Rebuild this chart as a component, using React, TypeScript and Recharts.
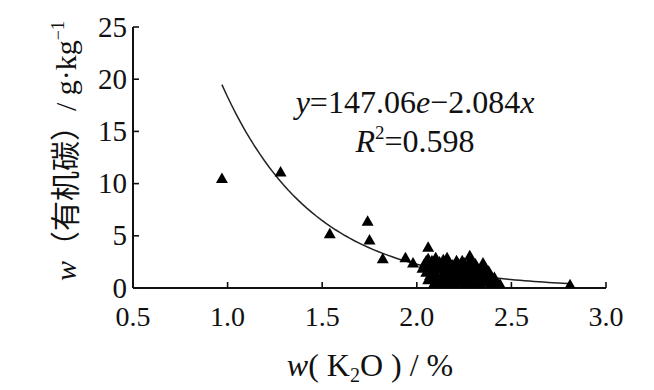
import React from "react";
import { ScatterChart, Scatter, XAxis, YAxis } from "recharts";

// w(K2O) % vs w(有机碳) g/kg
const kPercent = [
  0.97, 1.28, 1.54, 1.74, 1.75, 1.82, 1.94, 1.98, 2.06, 2.06, 2.1, 2.16,
  2.28, 2.35, 2.28, 2.44, 2.81,
  2.03, 2.04, 2.05, 2.06, 2.07, 2.08, 2.08, 2.09, 2.1, 2.1, 2.11, 2.12,
  2.12, 2.13, 2.14, 2.14, 2.15, 2.15, 2.16, 2.17, 2.17, 2.18, 2.18, 2.19,
  2.2, 2.2, 2.21, 2.21, 2.22, 2.23, 2.23, 2.24, 2.25, 2.25, 2.26, 2.27,
  2.27, 2.28, 2.29, 2.3, 2.3, 2.31, 2.32, 2.33, 2.34, 2.35, 2.36, 2.37,
  2.38, 2.4, 2.42,
  2.05, 2.07, 2.09, 2.11, 2.13, 2.16, 2.18, 2.19, 2.22, 2.24, 2.26, 2.28,
  2.29, 2.31, 2.32, 2.33, 2.35, 2.36, 2.38, 2.39, 2.41, 2.06, 2.09, 2.13,
  2.17, 2.2, 2.24, 2.26, 2.29, 2.31, 2.34, 2.36, 2.39,
];
const organicC = [
  10.5, 11.1, 5.2, 6.4, 4.6, 2.8, 2.9, 2.4, 3.9, 2.8, 2.9, 2.9,
  3.1, 2.4, 2.05, 0.35, 0.3,
  1.9, 2.3, 1.5, 2.1, 1.2, 2.6, 1.7, 0.9, 2.2, 1.4, 0.6, 2.5,
  1.8, 1.1, 2.7, 0.5, 2.0, 1.5, 0.9, 2.4, 1.7, 1.2, 0.4, 2.2,
  1.9, 0.8, 2.6, 1.4, 1.0, 2.1, 0.5, 1.7, 1.3, 2.4, 0.9, 1.9,
  0.4, 1.5, 1.1, 2.2, 0.7, 1.6, 1.2, 0.5, 1.8, 0.9, 1.3, 0.6,
  1.0, 0.7, 0.4,
  2.6, 2.0, 2.5, 1.9, 2.3, 2.6, 2.0, 1.5, 2.3, 2.6, 2.1, 2.6,
  1.8, 2.3, 1.9, 1.5, 1.5, 2.0, 1.6, 1.2, 1.0, 0.8, 0.4, 0.3,
  0.6, 0.3, 0.7, 0.3, 0.6, 0.3, 0.3, 0.6, 0.4,
];

const xTicks = [0.5, 1.0, 1.5, 2.0, 2.5, 3.0];
const yTicks = [0, 5, 10, 15, 20, 25];

// printed fit: y = 147.06 e^(-2.084x), drawn over the sampled range
const fitA = 147.06;
const fitB = 2.084;
const fitStart = 0.97;
const fitEnd = 2.82;

const points = kPercent.map((k, i) => ({ k, c: organicC[i] }));
const fitCurve: { k: number; c: number }[] = [];
for (let k = fitStart; k <= fitEnd + 1e-9; k += 0.025) {
  fitCurve.push({ k, c: fitA * Math.exp(-fitB * k) });
}

const W = 654;
const H = 390;
const margin = { top: 27, right: 48, bottom: 42, left: 73 };
const yAxisW = 60;
const xAxisH = 60;
const plotLeft = margin.left + yAxisW;
const plotBottom = H - margin.bottom - xAxisH;

const serif = "'Liberation Serif', 'Times New Roman', serif";
const cjk = "'Noto Sans CJK SC', sans-serif";
const txt = { fontFamily: serif };

const Triangle = (props: any) => {
  const { cx, cy } = props;
  return (
    <polygon
      points={`${cx},${cy - 6} ${cx - 6},${cy + 4.5} ${cx + 6},${cy + 4.5}`}
      fill="#000"
    />
  );
};

const XTick = (props: any) => {
  const { x, payload } = props;
  const y = plotBottom;
  return (
    <g>
      <line x1={x} y1={y} x2={x} y2={y - 6} stroke="#111" strokeWidth={1.6} />
      <text x={x} y={y + 38} textAnchor="middle" style={txt} fontSize={28} fill="#111">
        {Number(payload.value).toFixed(1)}
      </text>
    </g>
  );
};

const YTick = (props: any) => {
  const { y, payload } = props;
  const x = plotLeft;
  return (
    <g>
      <line x1={x} y1={y} x2={x + 6} y2={y} stroke="#111" strokeWidth={1.6} />
      <text x={x - 6} y={y} dy="0.33em" textAnchor="end" style={txt} fontSize={29} fill="#111">
        {payload.value}
      </text>
    </g>
  );
};

const App: React.FC = () => {
  return (
    <div style={{ position: "absolute", left: 0, top: 0, width: W, height: H, background: "#fff" }}>
      <ScatterChart width={W} height={H} margin={margin}>
        <XAxis
          type="number"
          dataKey="k"
          domain={[0.5, 3.0]}
          ticks={xTicks}
          height={xAxisH}
          tickSize={0}
          tickMargin={0}
          tickLine={false}
          tick={<XTick />}
          axisLine={{ stroke: "#111", strokeWidth: 2 }}
          allowDataOverflow
        />
        <YAxis
          type="number"
          dataKey="c"
          domain={[0, 25]}
          ticks={yTicks}
          width={yAxisW}
          tickSize={0}
          tickMargin={0}
          tickLine={false}
          tick={<YTick />}
          axisLine={{ stroke: "#111", strokeWidth: 2 }}
          allowDataOverflow
        />
        <Scatter
          data={fitCurve}
          line={{ stroke: "#222", strokeWidth: 1.5 }}
          lineType="joint"
          shape={() => <g />}
          isAnimationActive={false}
        />
        <Scatter data={points} shape={<Triangle />} isAnimationActive={false} />
      </ScatterChart>
      <svg width={W} height={H} style={{ position: "absolute", left: 0, top: 0, pointerEvents: "none" }}>
        <text x={415} y={113} textAnchor="middle" style={txt} fontSize={32} fill="#111">
          <tspan fontStyle="italic">y</tspan>=147.06<tspan fontStyle="italic">e</tspan>−2.084
          <tspan fontStyle="italic">x</tspan>
        </text>
        <text x={415} y={152} textAnchor="middle" style={txt} fontSize={32} fill="#111">
          <tspan fontStyle="italic">R</tspan>
          <tspan fontSize={19} dy={-13}>2</tspan>
          <tspan dy={13}>=0.598</tspan>
        </text>
        <text x={370} y={376} textAnchor="middle" style={txt} fontSize={32} fill="#111">
          <tspan fontStyle="italic">w</tspan>( K
          <tspan fontSize={20} dy={6}>2</tspan>
          <tspan dy={-6}>O ) / %</tspan>
        </text>
        <text
          x={76}
          y={151}
          transform="rotate(-90 76 151)"
          textAnchor="middle"
          style={txt}
          fontSize={30}
          fill="#111"
        >
          <tspan fontStyle="italic">w</tspan>
          <tspan style={{ fontFamily: cjk }}>（有机碳）</tspan>
          <tspan>/ g·kg</tspan>
          <tspan fontSize={18} dy={-12}>−1</tspan>
        </text>
      </svg>
    </div>
  );
};

export default App;
